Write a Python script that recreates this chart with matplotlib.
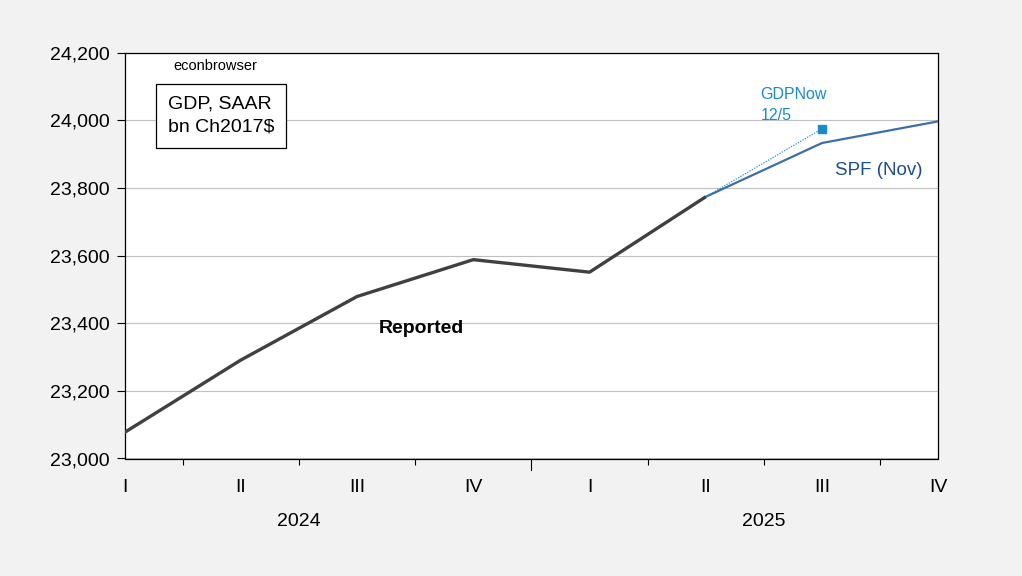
import matplotlib.pyplot as plt
import matplotlib.ticker as ticker
from matplotlib.lines import Line2D
import numpy as np

plt.rcParams["font.family"] = ["Liberation Sans", "DejaVu Sans"]

# ------------------------------------------------------------------
# Data (bn Ch2017$, SAAR), 2024Q1 .. 2025Q4
# ------------------------------------------------------------------
quarter_labels = ["I", "II", "III", "IV", "I", "II", "III", "IV"]
years = ["2024", "2025"]

reported_q = [0, 1, 2, 3, 4, 5]
reported = [23077, 23291, 23479, 23588, 23551, 23774]

spf_q = [5, 6, 7]
spf = [23774, 23933, 23997]

gdpnow_q = [5, 6]
gdpnow = [23774, 23975]

yticks = [23000, 23200, 23400, 23600, 23800, 24000, 24200]

# ------------------------------------------------------------------
# Figure
# ------------------------------------------------------------------
W, H = 1022, 576
fig = plt.figure(figsize=(W / 100, H / 100), dpi=100, facecolor="#F2F2F2")
left, right, top, bottom = 124.5, 938.3, 52.7, 458.5
ax = fig.add_axes([left / W, 1 - bottom / H, (right - left) / W, (bottom - top) / H])
ax.set_facecolor("white")

ax.plot(reported_q, reported, color="#404040", linewidth=2.4, solid_capstyle="butt", zorder=4)
ax.plot(spf_q, spf, color="#3D6FA6", linewidth=1.6, zorder=3)
ax.plot(gdpnow_q, gdpnow, color="#1A8AC9", linewidth=0.8, linestyle=(0, (1.2, 1.2)), zorder=3)
ax.plot(gdpnow_q[-1:], gdpnow[-1:], marker="s", markersize=6, color="#1A8AC9",
        linestyle="none", zorder=5)

ax.set_xlim(0, 7)
ax.set_ylim(23000, 24200)

# y axis
ax.set_yticks(yticks)
ax.yaxis.set_major_formatter(ticker.FuncFormatter(lambda v, p: f"{v:,.0f}"))
ax.tick_params(axis="y", length=5.5, width=0.8, pad=5, labelsize=14, direction="out")
ax.grid(True, axis="y", color="#C0C0C0", linewidth=0.8)
ax.set_axisbelow(True)

# x axis: quarter labels at the data points, separators half-way between
ax.set_xticks(range(len(quarter_labels)))
ax.set_xticklabels(quarter_labels)
ax.tick_params(axis="x", which="major", length=0, pad=14.5, labelsize=14)
ax.xaxis.set_minor_locator(ticker.FixedLocator([0.5, 1.5, 2.5, 4.5, 5.5, 6.5]))
ax.tick_params(axis="x", which="minor", length=4, width=0.8, direction="out")

# longer tick at the year boundary
trans = ax.get_xaxis_transform()
ax.add_line(Line2D([3.5, 3.5], [0, -11 / (bottom - top)], transform=trans,
                   color="black", linewidth=0.8, clip_on=False))

for i, yr in enumerate(years):
    ax.text(1.5 + 4 * i, -63 / (bottom - top), yr, transform=trans,
            ha="center", va="center", fontsize=14)

for sp in ax.spines.values():
    sp.set_color("black")
    sp.set_linewidth(0.9)

# annotations
ax.text(0.112, 0.968, "econbrowser", transform=ax.transAxes, ha="center", va="center", fontsize=10.5)
ax.text(0.053, 0.845, "GDP, SAAR\nbn Ch2017$", transform=ax.transAxes, ha="left", va="center",
        fontsize=14, linespacing=1.5,
        bbox=dict(boxstyle="square,pad=0.6", facecolor="white", edgecolor="black", linewidth=0.9))
ax.text(2.19, 23384, "Reported", ha="left", va="center", fontsize=14, fontweight="bold")
ax.text(6.11, 23853, "SPF (Nov)", ha="left", va="center", fontsize=13.5, color="#1F4E8C")
ax.text(5.47, 24045, "GDPNow\n12/5", ha="left", va="center", fontsize=11.5, color="#1A8AC9",
        linespacing=1.5)

fig.savefig("out.png", dpi=100, facecolor=fig.get_facecolor())
